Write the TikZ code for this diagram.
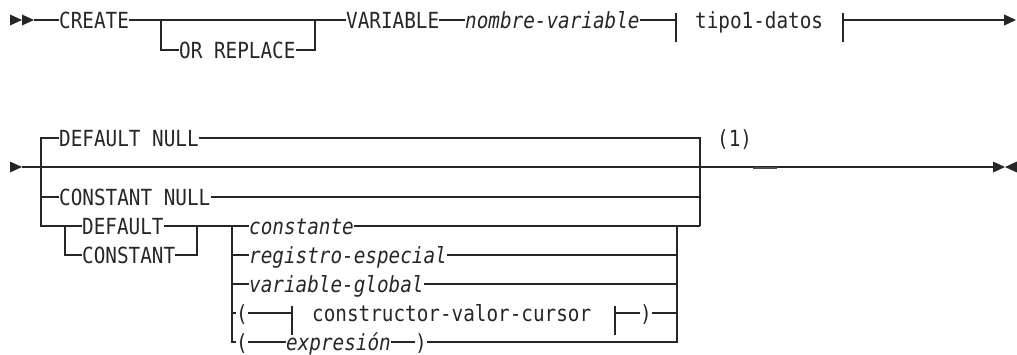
\documentclass[tikz,border=0pt]{standalone}
\usepackage{fontspec}
\usetikzlibrary{arrows.meta}
\newfontfamily\railfont{DejaVu Sans Mono}[FakeStretch=0.87]
\tikzset{
  rail/.style={line width=1.3pt, black!85},
  kw/.style={font=\railfont\fontsize{22.2}{23}\selectfont, text=black!85, inner sep=0pt, text height=16pt, text depth=0pt, anchor=west},
  var/.style={kw, font=\railfont\fontsize{22.2}{23}\selectfont\itshape},
}
\begin{document}
\begin{tikzpicture}[x=1pt,y=-1pt]
    \useasboundingbox (0,0) rectangle (1017,354);
    % first line
    \fill[black!85] (10,14.5) -- (22,20) -- (10,25.5) -- cycle;
    \fill[black!85] (22,14.5) -- (34,20) -- (22,25.5) -- cycle;
    \coordinate (a0) at (34,20);
    \node[kw] (create) at (59,20) {CREATE};
    \node[kw] (orrep) at (179,50) {OR REPLACE};
    \coordinate (j1) at (161,20);
    \coordinate (j2) at (315,20);
    \node[kw] (variable) at (346,20) {VARIABLE};
    \node[var] (nombre) at (465,20) {nombre-variable};
    \coordinate (t1) at (676,20);
    \node[kw] (tipo) at (695,20) {tipo1-datos};
    \coordinate (t2) at (843,20);
    \coordinate (a1) at (1016,20);
    \draw[rail] (a0) -- (create.west);
    \draw[rail] (create.east) -- (variable.west);
    \draw[rail] (j1) |- (orrep.west);
    \draw[rail] (orrep.east) -| (j2);
    \draw[rail] (variable.east) -- (nombre.west);
    \draw[rail] (nombre.east) -- (t1);
    \draw[rail] (t1) ++(0,-7) -- ++(0,29);
    \draw[rail] (t2) ++(0,-7) -- ++(0,29);
    \draw[rail,-{Triangle[length=12pt,width=11pt]}] (t2) -- (a1);
    % second line
    \fill[black!85] (10,161.5) -- (22,167) -- (10,172.5) -- cycle;
    \coordinate (b0) at (22,167);
    \coordinate (b1) at (993,167);
    \fill[black!85] (993,161.5) -- (1005,167) -- (993,172.5) -- cycle;
    \fill[black!85] (1017,161.5) -- (1005,167) -- (1017,172.5) -- cycle;
    \coordinate (lx) at (41,167);
    \coordinate (rx) at (700,167);
    \coordinate (rb) at (700,226);
    \node[kw] (dnull) at (59,138) {DEFAULT NULL};
    \node[kw] (cnull) at (59,197) {CONSTANT NULL};
    \node[kw] (note) at (717,138) {(1)};
    \coordinate (gl) at (65,226);
    \coordinate (gr) at (197,226);
    \node[kw] (dflt) at (82,226) {DEFAULT};
    \node[kw] (cnst) at (82,255) {CONSTANT};
    \coordinate (vl) at (232,226);
    \coordinate (vr) at (677,226);
    \node[var] (constante) at (249,226) {constante};
    \node[var] (registro) at (249,255) {registro-especial};
    \node[var] (varglob) at (249,284) {variable-global};
    \node[kw] (lp1) at (236,313) {(};
    \coordinate (t3) at (292,313);
    \node[kw] (cvc) at (312,313) {constructor-valor-cursor};
    \coordinate (t4) at (615,313);
    \node[kw] (rp1) at (640,313) {)};
    \node[kw] (lp2) at (236,342) {(};
    \node[var] (expr) at (286,342) {expresión};
    \node[kw] (rp2) at (415,342) {)};
    \draw[rail] (b0) -- (b1);
    \draw[line width=2pt,black!70] (753,168) -- (777,168);
    \draw[rail] (dnull.west) -| (lx) |- (cnull.west);
    \draw[rail] (lx) |- (gl);
    \draw[rail] (dnull.east) -| (rx) |- (cnull.east);
    \draw[rail] (rx) -- (rb);
    \draw[rail] (gl) -- (dflt.west);
    \draw[rail] (dflt.east) -- (vl);
    \draw[rail] (gl) |- (cnst.west);
    \draw[rail] (cnst.east) -| (gr);
    \draw[rail] (vl) -- (constante.west);
    \draw[rail] (constante.east) -- (rb);
    \draw[rail] (vl) |- (registro.west);
    \draw[rail] (registro.east) -| (vr);
    \draw[rail] (vl) |- (varglob.west);
    \draw[rail] (varglob.east) -| (vr);
    \draw[rail] (vl) |- (lp1.west);
    \draw[rail] (lp1.east) -- (t3);
    \draw[rail] (t3) ++(0,-7) -- ++(0,29);
    \draw[rail] (t4) ++(0,-7) -- ++(0,29);
    \draw[rail] (t4) -- (rp1.west);
    \draw[rail] (rp1.east) -| (vr);
    \draw[rail] (vl) |- (lp2.west);
    \draw[rail] (lp2.east) -- (expr.west);
    \draw[rail] (expr.east) -- (rp2.west);
    \draw[rail] (rp2.east) -| (vr);
\end{tikzpicture}
\end{document}
